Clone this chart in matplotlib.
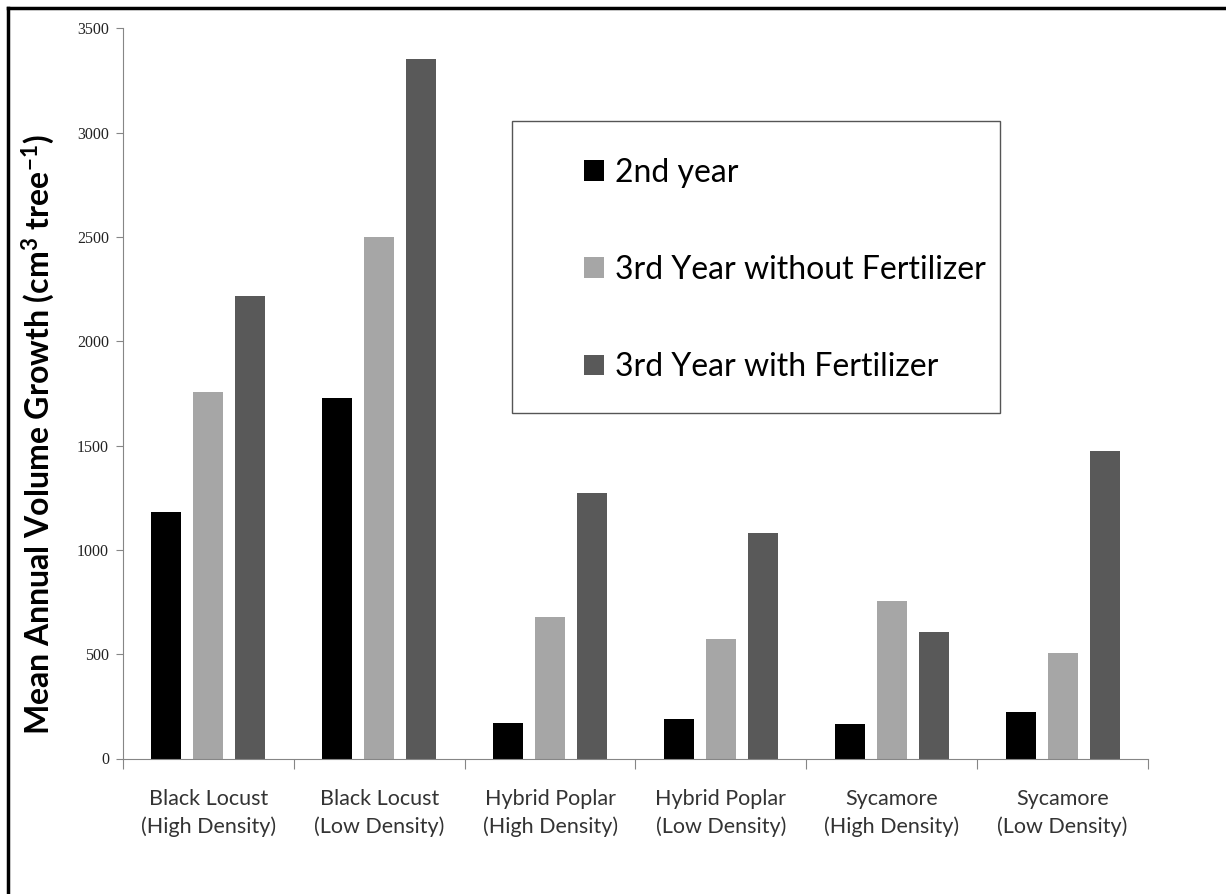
import numpy as np
import matplotlib
matplotlib.use("Agg")
import matplotlib.pyplot as plt
from matplotlib.patches import Rectangle, Patch
from matplotlib.lines import Line2D

plt.rcParams["font.family"] = ["Lato", "DejaVu Sans"]
plt.rcParams["mathtext.fontset"] = "custom"
plt.rcParams["mathtext.rm"] = "Lato"
plt.rcParams["mathtext.bf"] = "Lato:bold"
plt.rcParams["mathtext.default"] = "regular"

# ---------------------------------------------------------------------------
# Data
# ---------------------------------------------------------------------------
categories = [
    "Black Locust\n(High Density)",
    "Black Locust\n(Low Density)",
    "Hybrid Poplar\n(High Density)",
    "Hybrid Poplar\n(Low Density)",
    "Sycamore\n(High Density)",
    "Sycamore\n(Low Density)",
]
series_names = ["2nd year", "3rd Year without Fertilizer", "3rd Year with Fertilizer"]
second_year = [1182, 1730, 170, 191, 165, 221]
third_no_fert = [1755, 2501, 680, 571, 756, 504]
third_fert = [2218, 3355, 1273, 1081, 608, 1473]
series_colors = ["#000000", "#a6a6a6", "#595959"]
y_ticks = [0, 500, 1000, 1500, 2000, 2500, 3000, 3500]

W, H = 1226, 894
fig = plt.figure(figsize=(W / 100, H / 100), dpi=100)
fig.patch.set_facecolor("white")

# axes placed in pixel terms
left, right, top, bottom = 123, 1148, 28.3, 758.5
ax = fig.add_axes([left / W, 1 - bottom / H, (right - left) / W, (bottom - top) / H])

x = np.arange(len(categories))
width = 0.176
offsets = [-0.246, 0.0, 0.246]
for vals, off, col, name in zip([second_year, third_no_fert, third_fert], offsets,
                                series_colors, series_names):
    ax.bar(x + off, vals, width, color=col, label=name, zorder=2)

ax.set_xlim(-0.5, len(categories) - 0.5)
ax.set_ylim(0, 3500)
ax.set_yticks(y_ticks)
ax.set_yticklabels([str(v) for v in y_ticks], family="Liberation Serif",
                   fontsize=11.5, color="#222222")
ax.tick_params(axis="y", length=5, width=0.8, color="#868686", pad=5)

# category boundary ticks, labels at centres
ax.set_xticks(np.arange(len(categories) + 1) - 0.5)
ax.set_xticklabels([])
ax.tick_params(axis="x", which="major", length=7, width=0.8, color="#868686")
ax.set_xticks(x, minor=True)
ax.set_xticklabels(categories, minor=True, fontsize=15.5, color="#333333",
                   linespacing=1.45)
ax.tick_params(axis="x", which="minor", length=0, pad=22)

for s in ["top", "right"]:
    ax.spines[s].set_visible(False)
for s in ["left", "bottom"]:
    ax.spines[s].set_color("#868686")
    ax.spines[s].set_linewidth(0.8)

fig.text(38 / W, 1 - 435 / H, r"Mean Annual Volume Growth (cm$^3$ tree$^{-1}$)",
         rotation=90, ha="center", va="center", fontsize=23, fontweight="bold",
         color="#000000")

# legend box
fig.patches.append(Rectangle((512 / W, 1 - 413 / H), (1000 - 512) / W, (413 - 121) / H,
                             transform=fig.transFigure, facecolor="white",
                             edgecolor="#555555", linewidth=1.0, zorder=3))
handles = [Patch(facecolor=c, edgecolor="none") for c in series_colors]
leg = fig.legend(handles, series_names, loc="upper left",
                 bbox_to_anchor=(584 / W, 1 - 158 / H), frameon=False,
                 fontsize=23, handlelength=0.62, handleheight=0.62,
                 handletextpad=0.34, labelspacing=2.1, borderpad=0,
                 borderaxespad=0)
leg.set_zorder(4)

# outer frame (top and left edges only visible)
fig.add_artist(Line2D([8 / W, 1], [1 - 8 / H, 1 - 8 / H], transform=fig.transFigure,
                      color="black", linewidth=2.5))
fig.add_artist(Line2D([8 / W, 8 / W], [0, 1 - 8 / H], transform=fig.transFigure,
                      color="black", linewidth=2.5))

fig.savefig("out.png", dpi=100, facecolor="white")
